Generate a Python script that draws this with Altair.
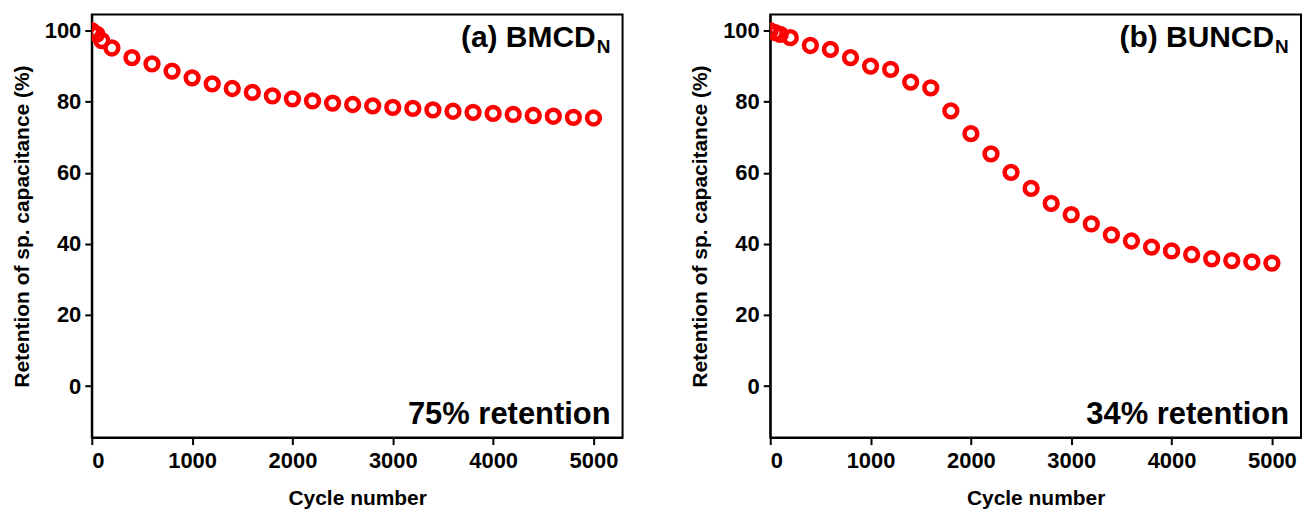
import altair as alt
import pandas as pd

cycles = [0, 50, 100, 200, 400, 600, 800, 1000, 1200, 1400, 1600, 1800, 2000, 2200,
          2400, 2600, 2800, 3000, 3200, 3400, 3600, 3800, 4000, 4200, 4400, 4600, 4800, 5000]
bmcd = [100.0, 99.0, 97.2, 95.1, 92.4, 90.6, 88.6, 86.7, 85.0, 83.7, 82.6, 81.6, 80.8, 80.2,
        79.6, 79.2, 78.8, 78.4, 78.1, 77.7, 77.3, 77.0, 76.7, 76.4, 76.1, 75.9, 75.6, 75.4]
buncd = [100.0, 99.4, 98.9, 98.0, 95.8, 94.7, 92.4, 90.0, 89.1, 85.5, 83.9, 77.4, 71.0, 65.3,
         60.1, 55.6, 51.4, 48.2, 45.6, 42.5, 40.8, 39.1, 38.0, 37.0, 35.8, 35.3, 34.9, 34.6]

panel_titles = ["(a) BMCD", "(b) BUNCD"]
subscript = "N"
retention_labels = ["75% retention", "34% retention"]
x_ticks = [0, 1000, 2000, 3000, 4000, 5000]
y_ticks = [0, 20, 40, 60, 80, 100]

FONT = "Liberation Sans"
W, H = 532, 424


def panel(values, title, retention):
    df = pd.DataFrame({"cycle": cycles, "ret": values})
    pts = alt.Chart(df).mark_point(
        shape="circle", filled=False, color="#ff0000", strokeWidth=4.5, size=165,
        opacity=1, clip=True
    ).encode(
        x=alt.X("cycle:Q", scale=alt.Scale(domain=[0, 5290], nice=False, zero=False),
                axis=alt.Axis(title="Cycle number", values=x_ticks, format="d")),
        y=alt.Y("ret:Q", scale=alt.Scale(domain=[-14.5, 104.5], nice=False, zero=False),
                axis=alt.Axis(title="Retention of sp. capacitance (%)", values=y_ticks)),
    )
    tdf = pd.DataFrame({"t": [title], "s": [subscript], "r": [retention]})
    t1 = alt.Chart(tdf).mark_text(
        align="right", baseline="alphabetic", font=FONT, fontWeight="bold",
        fontSize=30, color="black"
    ).encode(x=alt.value(505), y=alt.value(33), text="t:N")
    t2 = alt.Chart(tdf).mark_text(
        align="left", baseline="alphabetic", font=FONT, fontWeight="bold",
        fontSize=19, color="black"
    ).encode(x=alt.value(506), y=alt.value(39), text="s:N")
    t3 = alt.Chart(tdf).mark_text(
        align="right", baseline="alphabetic", font=FONT, fontWeight="bold",
        fontSize=31, color="black"
    ).encode(x=alt.value(520), y=alt.value(410), text="r:N")
    return alt.layer(pts, t1, t2, t3).properties(width=W, height=H)


chart = alt.hconcat(
    panel(bmcd, panel_titles[0], retention_labels[0]),
    panel(buncd, panel_titles[1], retention_labels[1]),
    spacing=65,
).properties(
    padding={"left": 10, "top": 13, "right": 3, "bottom": 5}
).configure_view(
    stroke="black", strokeWidth=2
).configure_axis(
    labelFont=FONT, titleFont=FONT, labelFontWeight="bold", titleFontWeight="bold",
    labelFontSize=22, titleFontSize=21, labelColor="black", titleColor="black",
    domainColor="black", domainWidth=2, tickColor="black", tickWidth=2, tickSize=7,
    grid=False, labelPadding=4, titlePadding=12
).configure_axisX(
    titlePadding=16, labelPadding=6
)

chart.save("out.html", embed_options={"renderer": "svg", "actions": False})
